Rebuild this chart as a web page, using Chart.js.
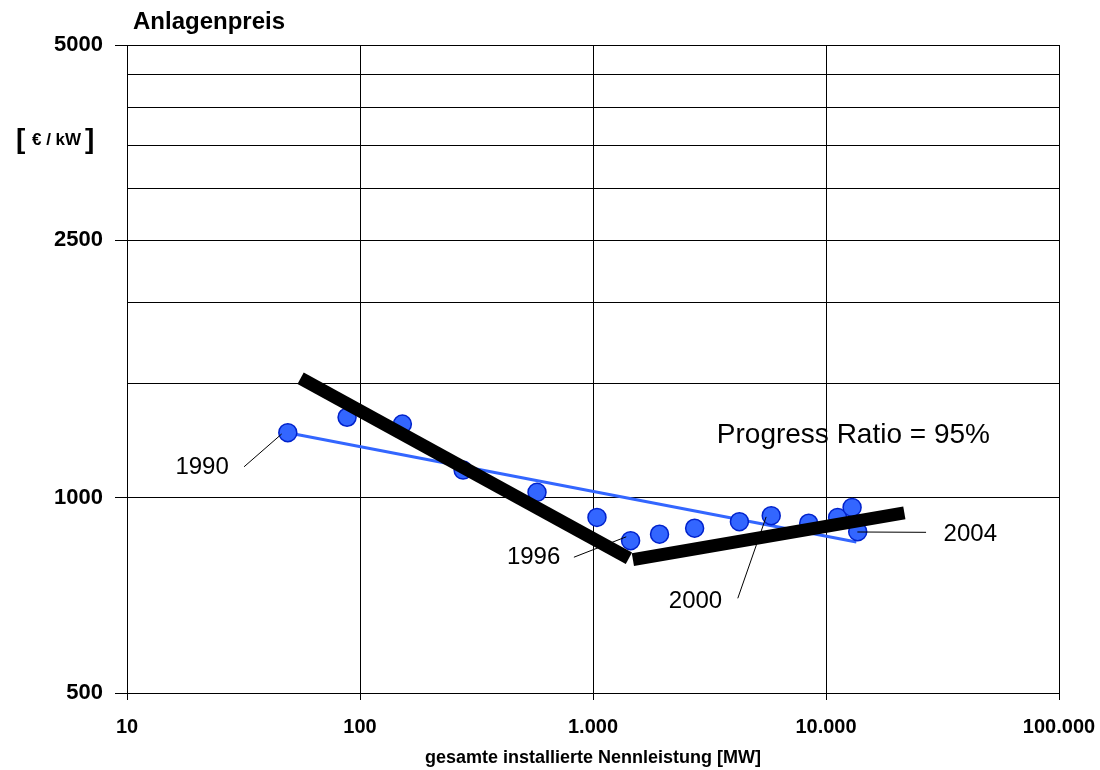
<!DOCTYPE html>
<html>
<head>
<meta charset="utf-8">
<script src="https://cdn.jsdelivr.net/npm/chart.js@4"></script>
<style>
  html, body { margin: 0; padding: 0; background: #fff; }
  canvas { display: block; }
</style>
</head>
<body>
<canvas id="learningCurve" width="1100" height="770"></canvas>
<script>
// ---- 1. DATA --------------------------------
// years of the market points (one per year)
const years = [1990, 1991, 1992, 1993, 1994, 1995, 1996, 1997, 1998, 1999, 2000, 2001, 2002, 2003, 2004];

// cumulative installed capacity [MW]
const capacity = [49, 88, 152, 277, 575, 1040, 1450, 1930, 2730, 4250, 5820, 8430, 11220, 12940, 13680];

// system price [EUR/kW]
const price = [1261, 1332, 1300, 1104, 1020, 933, 859, 879, 898, 919, 939, 914, 933, 967, 887];

// thin blue fit line (start, end)
const fitCapacity = [49, 13500];
const fitPrice = [1261, 855];

// thick black progress-ratio lines, two separate segments
const dropCapacity = [55.6, 1426];
const dropPrice = [1530, 807];
const riseCapacity = [1483, 21690];
const risePrice = [803, 948];

// tick values
const xTicks = [10, 100, 1000, 10000, 100000];
const yGrid = [500, 1000, 1500, 2000, 2500, 3000, 3500, 4000, 4500, 5000];
const yLabels = [500, 1000, 2500, 5000];

// callouts: text, where the text sits, leader line from -> to (all in data units)
const callouts = [
  { text: "1990", at: [21, 1113], from: [31.8, 1117], to: [46.1, 1255] },
  { text: "1996", at: [556, 811], from: [828, 810], to: [1389, 871] },
  { text: "2000", at: [2754, 692], from: [4182, 700], to: [5535, 935] },
  { text: "2004", at: [41620, 880], from: [13634, 886], to: [26880, 885] },
  { text: "Progress Ratio = 95%", at: [13110, 1250], big: true },
];

const FONT = "'Liberation Sans', Arial, Helvetica, sans-serif";

const toXY = (xs, ys) => xs.map((x, i) => ({ x, y: ys[i] }));

// ---- 2. EXTRA TEXT (callouts + axis caption) ----
const extrasPlugin = {
  id: "extras",
  afterDatasetsDraw(chart) {
    const { ctx, scales } = chart;
    const sx = scales.x, sy = scales.y;
    ctx.save();
    ctx.fillStyle = "#000";
    ctx.strokeStyle = "#000";
    ctx.lineWidth = 1;
    callouts.forEach((c) => {
      if (c.from) {
        ctx.beginPath();
        ctx.moveTo(sx.getPixelForValue(c.from[0]), sy.getPixelForValue(c.from[1]));
        ctx.lineTo(sx.getPixelForValue(c.to[0]), sy.getPixelForValue(c.to[1]));
        ctx.stroke();
      }
      ctx.font = (c.big ? "28px " : "24px ") + FONT;
      ctx.textAlign = "center";
      ctx.textBaseline = "middle";
      ctx.fillText(c.text, sx.getPixelForValue(c.at[0]), sy.getPixelForValue(c.at[1]));
    });
    ctx.restore();
  },
  afterDraw(chart) {
    const { ctx } = chart;
    ctx.save();
    ctx.fillStyle = "#000";
    ctx.textBaseline = "alphabetic";
    ctx.textAlign = "left";
    ctx.font = "bold 24px " + FONT;
    ctx.fillText("Anlagenpreis", 133, 29);
    // unit with big brackets
    ctx.font = "bold 28px " + FONT;
    ctx.fillText("[", 16, 148);
    ctx.fillText("]", 85, 148);
    ctx.font = "bold 17px " + FONT;
    ctx.fillText("\u20AC / kW", 32, 145);
    ctx.restore();
  },
};

// ---- 3. CHART -------------------------------
const ctx = document.getElementById("learningCurve").getContext("2d");

new Chart(ctx, {
  type: "scatter",
  data: {
    datasets: [
      {
        label: "Trend",
        data: toXY(fitCapacity, fitPrice),
        showLine: true,
        borderColor: "#3366ff",
        borderWidth: 3,
        pointRadius: 0,
        order: 3,
      },
      {
        label: "Anlagenpreis",
        data: toXY(capacity, price),
        showLine: false,
        backgroundColor: "#3366ff",
        borderColor: "#0022cc",
        borderWidth: 1.5,
        pointRadius: 9,
        order: 2,
      },
      {
        label: "PR 1",
        data: toXY(dropCapacity, dropPrice),
        showLine: true,
        borderColor: "#000",
        borderWidth: 13,
        borderCapStyle: "butt",
        pointRadius: 0,
        order: 1,
      },
      {
        label: "PR 2",
        data: toXY(riseCapacity, risePrice),
        showLine: true,
        borderColor: "#000",
        borderWidth: 13,
        borderCapStyle: "butt",
        pointRadius: 0,
        order: 1,
      },
    ],
  },
  options: {
    responsive: false,
    animation: false,
    devicePixelRatio: 1,
    layout: { padding: { top: 45, right: 41, left: 0, bottom: 0 } },
    plugins: {
      legend: { display: false },
      tooltip: { enabled: false },
    },
    scales: {
      x: {
        type: "logarithmic",
        min: 10,
        max: 100000,
        afterBuildTicks: (s) => { s.ticks = xTicks.map((v) => ({ value: v })); },
        afterFit: (s) => { s.height = 77; s.paddingLeft = 0; s.paddingRight = 0; },
        border: { color: "#000", width: 1 },
        grid: { color: "#000", lineWidth: 1, tickLength: 7, tickColor: "#000" },
        ticks: {
          color: "#000",
          padding: 15,
          maxRotation: 0,
          font: { family: FONT, size: 20, weight: "bold" },
          callback: (v) => Number(v).toLocaleString("de-DE"),
        },
        title: {
          display: true,
          text: "gesamte installierte Nennleistung [MW]",
          color: "#000",
          font: { family: FONT, size: 18, weight: "bold" },
          padding: { top: 0, bottom: 1 },
        },
      },
      y: {
        type: "logarithmic",
        min: 500,
        max: 5000,
        afterBuildTicks: (s) => { s.ticks = yGrid.map((v) => ({ value: v })); },
        afterFit: (s) => { s.width = 127; },
        border: { color: "#000", width: 1 },
        grid: {
          color: "#000",
          lineWidth: 1,
          tickLength: 12,
          tickColor: (c) => (c.tick && yLabels.includes(c.tick.value) ? "#000" : "rgba(0,0,0,0)"),
        },
        ticks: {
          color: "#000",
          padding: 12,
          font: { family: FONT, size: 22, weight: "bold" },
          callback: (v) => (yLabels.includes(v) ? String(v) : ""),
        },
      },
    },
  },
  plugins: [extrasPlugin],
});
</script>
</body>
</html>
